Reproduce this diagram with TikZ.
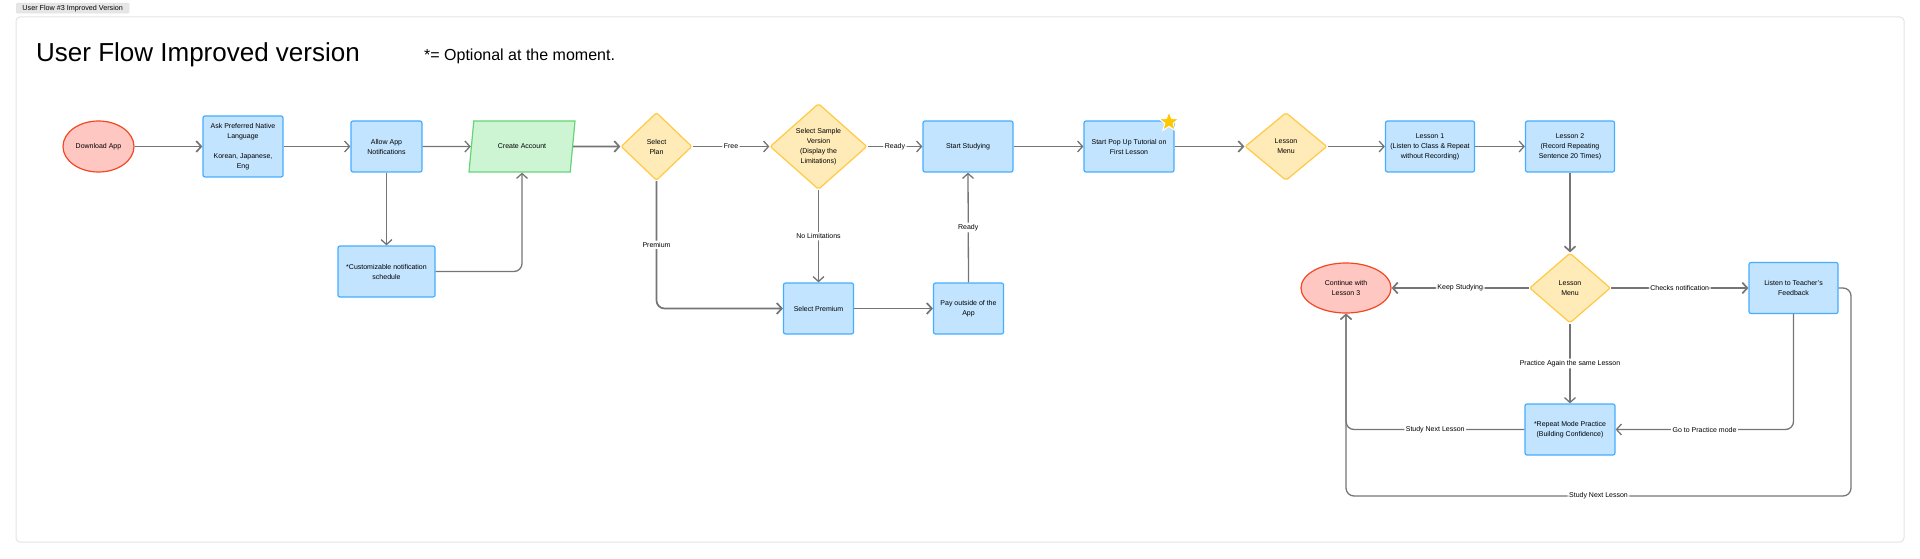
\documentclass[tikz,border=0pt]{standalone}
\usepackage{fontspec}
\setmainfont{Liberation Sans}
\usepackage{tikz}
\usetikzlibrary{arrows.meta}
\usetikzlibrary{shapes.geometric}

\definecolor{bluefill}{HTML}{C2E4FF}
\definecolor{blueline}{HTML}{45ADFF}
\definecolor{yellowfill}{HTML}{FFEBB8}
\definecolor{yellowline}{HTML}{FFC943}
\definecolor{greenfill}{HTML}{CDF5D3}
\definecolor{greenline}{HTML}{66D478}
\definecolor{redfill}{HTML}{FFC7C2}
\definecolor{redline}{HTML}{F24822}
\definecolor{linegray}{HTML}{757575}
\definecolor{framegray}{HTML}{E3E3E3}
\definecolor{tabgray}{HTML}{E6E6E6}
\definecolor{stargold}{HTML}{FFC700}

\begin{document}
\begin{tikzpicture}[
x=1pt, y=-1pt,
font=\fontsize{7}{10}\selectfont,
block/.style={rectangle, draw=blueline, fill=bluefill, line width=1.2pt,
rounded corners=2pt, align=center, inner sep=2pt, minimum width=90pt, minimum height=51pt},
decision/.style={diamond, draw=yellowline, fill=yellowfill, line width=1.2pt,
rounded corners=2pt, align=center, inner sep=1pt},
terminal/.style={ellipse, draw=redline, fill=redfill, line width=1.2pt, align=center, inner sep=1pt},
io/.style={trapezium, trapezium left angle=67.6, trapezium right angle=112.4,
trapezium stretches body, draw=greenline, fill=greenfill, line width=1.2pt,
minimum width=106pt, minimum height=51pt},
link/.style={draw=linegray, line width=1.3pt, rounded corners=8pt},
heavy/.style={line width=1.7pt},
tag/.style={fill=white, inner sep=1.5pt},
>={Straight Barb[length=5pt,width=11pt]}
]
\useasboundingbox (0,0) rectangle (1920,559);

% frame and heading
\draw[framegray, line width=1pt, rounded corners=4pt] (16,17) rectangle (1904,542);
\node[anchor=north west, fill=tabgray, draw=framegray, rounded corners=1pt, inner sep=1pt,
minimum width=113pt, minimum height=10pt, font=\fontsize{7.2}{8}\selectfont] (tab) at (16,3) {User Flow \#3 Improved Version};
\node[anchor=base west, inner sep=0pt, font=\fontsize{26}{30}\selectfont] (title) at (36,62) {User Flow Improved version};
\node[anchor=base west, inner sep=0pt, font=\fontsize{16}{18}\selectfont] (note) at (424,61) {*= Optional at the moment.};

% top row
\node[terminal, minimum width=71pt, minimum height=51pt] (n1) at (98.5,146.5) {Download App};
\node[block, right of=n1, node distance=144.5pt, minimum width=80pt, minimum height=61pt] (n2) {Ask Preferred Native\\Language\\[10pt]Korean, Japanese,\\Eng};
\node[block, right of=n2, node distance=143.5pt, minimum width=71pt] (n3) {Allow App\\Notifications};
\node[io, right of=n3, node distance=135.5pt] (n4) {Create Account};
\node[decision, right of=n4, node distance=134.5pt, minimum width=71pt, minimum height=68pt] (n5) {Select\\Plan};
\node[decision, right of=n5, node distance=162pt, minimum width=97pt, minimum height=86pt, aspect=1.13] (n6) {Select Sample\\Version\\(Display the\\Limitations)};
\node[block, right of=n6, node distance=149.5pt] (n7) {Start Studying};
\node[block, right of=n7, node distance=161pt] (n8) {Start Pop Up Tutorial on\\First Lesson};
\node[decision, right of=n8, node distance=157pt, minimum width=82pt, minimum height=68pt] (n9) {Lesson\\Menu};
\node[block, right of=n9, node distance=144pt, minimum width=89pt] (n10) {Lesson 1\\(Listen to Class \& Repeat\\without Recording)};
\node[block, right of=n10, node distance=140pt, minimum width=89pt] (n11) {Lesson 2\\(Record Repeating\\Sentence 20 Times)};
\node[star, star points=5, star point ratio=2.4, fill=stargold, draw=white, line width=1pt,
minimum size=21pt, inner sep=0pt] (star1) at (1169,122) {};

% lower part
\node[block, below of=n3, node distance=125pt, minimum width=97pt] (n12) {*Customizable notification\\schedule};
\node[block, below of=n6, node distance=162pt, minimum width=70pt] (n13) {Select Premium};
\node[block, right of=n13, node distance=150pt, minimum width=70pt] (n14) {Pay outside of the\\App};
\node[decision, below of=n11, node distance=141.5pt, minimum width=81pt, minimum height=70pt] (n15) {Lesson\\Menu};
\node[terminal, left of=n15, node distance=224pt, minimum width=90pt, minimum height=50pt] (n16) {Continue with\\Lesson 3};
\node[block, right of=n15, node distance=223.5pt, minimum width=89pt] (n17) {Listen to Teacher's\\Feedback};
\node[block, below of=n15, node distance=141.5pt] (n18) {*Repeat Mode Practice\\(Building Confidence)};
\coordinate (c1) at (1851,496);

\draw[link, heavy, ->] (n1)--(n2);
\draw[link, ->] (n2)--(n3);
\draw[link, ->] (n3)--(n4);
\draw[link, ->] (n3)--(n12);
\draw[link, ->] (n12.east) -| (n4.south);
\draw[link, heavy, ->] (n4)--(n5);
\draw[link, ->] (n5)-- node[tag] {Free} (n6);
\draw[link, ->] (n6)-- node[tag] {Ready} (n7);
\draw[link, heavy, ->] (n5.south) |- node[tag, pos=0.25] {Premium} (n13.west);
\draw[link, ->] (n6.south)-- node[tag] {No Limitations} (n13.north);
\draw[link, heavy, ->] (n13)--(n14);
\draw[link, ->] (n14.north)-- node[tag] {Ready} (n7.south);
\draw[link, ->] (n7)--(n8);
\draw[link, heavy, ->] (n8)--(n9);
\draw[link, ->] (n9)--(n10);
\draw[link, ->] (n10)--(n11);
\draw[link, heavy, ->] (n11)--(n15);
\draw[link, heavy, ->] (n15)-- node[tag] {Keep Studying} (n16);
\draw[link, heavy, ->] (n15)-- node[tag] {Checks notification} (n17);
\draw[link, ->] (n15)-- node[tag] {Practice Again the same Lesson} (n18);
\draw[link, ->] (n17.south) |- node[tag, pos=0.75] {Go to Practice mode} (n18.east);
\draw[link, ->] (n18.west) -| node[tag, pos=0.25] {Study Next Lesson} (n16.south);
\draw[link, ->] (n17.east) -| (c1) -| node[tag, pos=0.25] {Study Next Lesson} (n16.south);
\end{tikzpicture}
\end{document}
